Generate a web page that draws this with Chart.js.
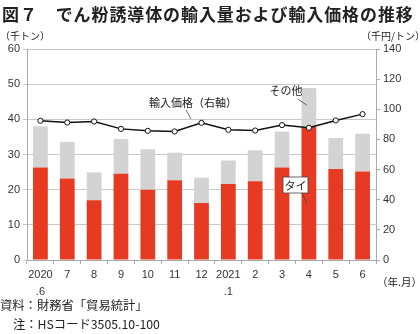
<!DOCTYPE html>
<html lang="ja">
<head>
<meta charset="utf-8">
<script src="https://cdn.jsdelivr.net/npm/chart.js@4"></script>
<style>
  html, body { margin: 0; padding: 0; background: #fff; }
  body { width: 420px; height: 334px; position: relative; overflow: hidden;
         font-family: "Noto Sans CJK JP", "Noto Sans", sans-serif; color: #222; }
  #wrap { position: absolute; left: 0; top: 0; width: 420px; height: 334px; }
  .t { position: absolute; white-space: nowrap; line-height: 1; }
  #title { left: 2px; top: 5px; font-size: 17px; font-weight: bold; letter-spacing: 0.9px; }
  #unitL { left: 0px; top: 31px; font-size: 10px; }
  #unitR { left: 361px; top: 31px; font-size: 10px; }
  #unitX { left: 377px; top: 277px; font-size: 10.5px; }
  #src { left: 0px; top: 299px; font-size: 12.3px; }
  #note { left: 13px; top: 318px; font-size: 12.3px; }
</style>
</head>
<body>
<div id="wrap"><canvas id="chart" width="420" height="334"></canvas></div>
<div class="t" id="title">図７　でん粉誘導体の輸入量および輸入価格の推移</div>
<div class="t" id="unitL">（千トン）</div>
<div class="t" id="unitR">（千円/トン）</div>
<div class="t" id="unitX">（年.月）</div>
<div class="t" id="src">資料：財務省「貿易統計」</div>
<div class="t" id="note">注：HSコード3505.10-100</div>
<script>
/* =========================
   DATA
========================= */
const months = [["2020", ".6"], "7", "8", "9", "10", "11", "12", ["2021", ".1"], "2", "3", "4", "5", "6"];
const thai   = [26.3, 23.2, 17.0, 24.5, 20.0, 22.7, 16.2, 21.6, 22.4, 26.3, 37.8, 25.9, 25.2];
const other  = [11.7, 10.4, 7.9, 9.9, 11.5, 7.8, 7.2, 6.7, 8.8, 10.2, 11.1, 8.8, 10.7];
const price  = [92.4, 91.2, 91.9, 87.0, 85.7, 85.3, 91.0, 86.4, 85.9, 89.5, 87.7, 92.6, 96.8];
const leftTicks  = [0, 10, 20, 30, 40, 50, 60];
const rightTicks = [0, 20, 40, 60, 80, 100, 120, 140];

const RED = "#e63b22";
const GRAY = "#d3d3d3";
const FONT = "'Noto Sans CJK JP', 'Noto Sans', sans-serif";
const NUM_FONT = "'Liberation Sans', Arial, sans-serif";

/* =========================
   ANNOTATIONS (labels + leader lines)
========================= */
const annotations = {
  id: "annotations",
  afterDatasetsDraw(chart) {
    const { ctx } = chart;
    const x = chart.scales.x;
    const y = chart.scales.y;
    ctx.save();
    ctx.font = "11px " + FONT;
    ctx.fillStyle = "#222";
    ctx.strokeStyle = "#444";
    ctx.lineWidth = 0.8;

    // 輸入価格（右軸）
    ctx.textAlign = "center";
    ctx.textBaseline = "middle";
    ctx.fillText("輸入価格（右軸）", 193, 103);
    ctx.beginPath();
    ctx.moveTo(186, 110);
    ctx.lineTo(191, 119);
    ctx.stroke();

    // その他
    const x4 = x.getPixelForValue(10);
    ctx.fillText("その他", 286, 91);
    ctx.beginPath();
    ctx.moveTo(298, 99);
    ctx.lineTo(x4 - 2, y.getPixelForValue(44));
    ctx.stroke();

    // タイ box
    const bx = 283, by = 177, bw = 25, bh = 16;
    ctx.beginPath();
    ctx.moveTo(bx + bw - 6, by + bh);
    ctx.lineTo(x4 - 2, y.getPixelForValue(16));
    ctx.stroke();
    ctx.fillStyle = "#fff";
    ctx.fillRect(bx, by, bw, bh);
    ctx.strokeRect(bx, by, bw, bh);
    ctx.fillStyle = "#222";
    ctx.fillText("タイ", bx + bw / 2, by + bh / 2 + 0.5);
    ctx.restore();
  }
};

/* =========================
   CHART
========================= */
new Chart(document.getElementById("chart"), {
  type: "bar",
  data: {
    labels: months,
    datasets: [
      {
        type: "line",
        label: "輸入価格",
        data: price,
        yAxisID: "y1",
        borderColor: "#111",
        borderWidth: 1.5,
        pointRadius: 2.6,
        pointBackgroundColor: "#fff",
        pointBorderColor: "#111",
        pointBorderWidth: 1,
        tension: 0,
        order: 0
      },
      {
        label: "タイ",
        data: thai,
        backgroundColor: RED,
        stack: "s",
        categoryPercentage: 1,
        barPercentage: 0.55,
        order: 1
      },
      {
        label: "その他",
        data: other,
        backgroundColor: GRAY,
        stack: "s",
        categoryPercentage: 1,
        barPercentage: 0.55,
        order: 1
      }
    ]
  },
  options: {
    responsive: false,
    animation: false,
    layout: { padding: { left: 0, right: 0, top: 49, bottom: 34 } },
    plugins: { legend: { display: false }, tooltip: { enabled: false } },
    scales: {
      x: {
        stacked: true,
        offset: true,
        grid: { display: true, offset: true, drawOnChartArea: false, tickLength: 4, color: "#aaa" },
        border: { display: true, color: "#aaa" },
        ticks: { color: "#333", font: { size: 11, family: NUM_FONT, lineHeight: 1.6 }, maxRotation: 0, autoSkip: false, padding: 2 },
        afterFit(scale) { scale.height = 40; }
      },
      y: {
        stacked: true,
        min: 0, max: 60,
        afterBuildTicks(scale) { scale.ticks = leftTicks.map(v => ({ value: v })); },
        grid: { color: "#c8c8c8", tickLength: 4 },
        border: { display: true, color: "#aaa" },
        ticks: { color: "#333", font: { size: 11, family: NUM_FONT }, padding: 3 },
        afterFit(scale) { scale.width = 27; }
      },
      y1: {
        position: "right",
        min: 0, max: 140,
        afterBuildTicks(scale) { scale.ticks = rightTicks.map(v => ({ value: v })); },
        grid: { drawOnChartArea: false, tickLength: 4, color: "#aaa" },
        border: { display: true, color: "#aaa" },
        ticks: { color: "#333", font: { size: 11, family: NUM_FONT }, padding: 3 },
        afterFit(scale) { scale.width = 44; }
      }
    }
  },
  plugins: [annotations]
});
</script>
</body>
</html>
